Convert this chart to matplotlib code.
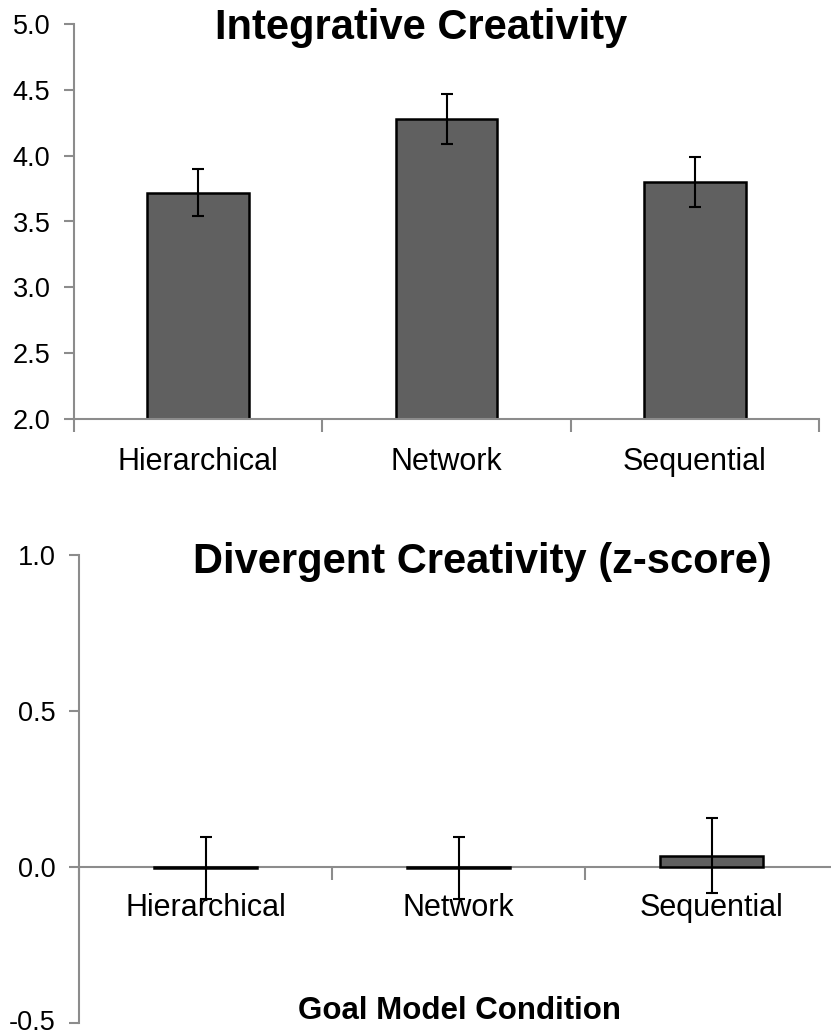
import matplotlib
matplotlib.use("Agg")
import matplotlib.pyplot as plt
from matplotlib.ticker import FixedLocator
from matplotlib.transforms import ScaledTranslation

plt.rcParams['font.family'] = ['Liberation Sans', 'DejaVu Sans']

conditions = ['Hierarchical', 'Network', 'Sequential']

integ_means = [3.72, 4.28, 3.80]
integ_err = [0.18, 0.19, 0.19]

diverg_means = [-0.004, -0.003, 0.036]
diverg_err = [0.10, 0.099, 0.12]

BAR = '#606060'
SPINE = '#8c8c8c'

fig = plt.figure(figsize=(8.31, 10.36), dpi=100)

W, H = 831, 1036


def ax_at(x0, x1, y0, y1):
    return fig.add_axes([x0 / W, 1 - y1 / H, (x1 - x0) / W, (y1 - y0) / H])


def style(ax, yticks, ylim, xpad):
    x = range(len(conditions))
    ax.set_xlim(-0.5, 2.5)
    ax.set_ylim(*ylim)
    ax.set_yticks(yticks)
    ax.set_yticklabels([f'{v:.1f}' for v in yticks], fontsize=19.5)
    ax.xaxis.set_major_locator(FixedLocator([-0.5, 0.5, 1.5, 2.5]))
    ax.xaxis.set_minor_locator(FixedLocator(list(x)))
    ax.set_xticklabels([], minor=False)
    ax.set_xticks(list(x), conditions, minor=True, fontsize=22)
    ax.tick_params(axis='x', which='major', length=9, width=1.5, color=SPINE, direction='out')
    ax.tick_params(axis='x', which='minor', length=0, pad=xpad)
    ax.tick_params(axis='y', length=7, width=1.5, color=SPINE, pad=10)
    for s in ['top', 'right']:
        ax.spines[s].set_visible(False)
    for s in ['left', 'bottom']:
        ax.spines[s].set_color(SPINE)
        ax.spines[s].set_linewidth(1.5)


# top chart
ax1 = ax_at(74, 819, 24, 419)
ax1.bar(range(3), integ_means, width=0.41, color=BAR, edgecolor='black',
        linewidth=1.8, zorder=2)
ax1.errorbar(range(3), integ_means, yerr=integ_err, fmt='none', ecolor='black',
             elinewidth=1.5, capsize=4.5, capthick=1.5, zorder=3)
style(ax1, [2.0, 2.5, 3.0, 3.5, 4.0, 4.5, 5.0], (2.0, 5.0), 20)
fig.text(421 / W, 1 - 39 / H, 'Integrative Creativity', fontsize=30,
         fontweight='bold', ha='center', va='baseline')

# bottom chart
ax2 = ax_at(79, 838, 555, 1023)
ax2.spines['bottom'].set_position(('data', 0))
ax2.spines['bottom'].set_zorder(1)
ax2.bar(range(3), diverg_means, width=0.41, color=BAR, edgecolor='black',
        linewidth=1.8, zorder=2)
ax2.errorbar(range(3), diverg_means, yerr=diverg_err, fmt='none', ecolor='black',
             elinewidth=1.5, capsize=4.5, capthick=1.5, zorder=3)
style(ax2, [-0.5, 0.0, 0.5, 1.0], (-0.5, 1.0), 19)
for lbl in ax2.get_yticklabels():
    lbl.set_verticalalignment('center_baseline')
# nudge the lowest label up a little so it stays inside the figure
low = ax2.get_yticklabels()[0]
low.set_transform(low.get_transform() + ScaledTranslation(0, 3 / 100, fig.dpi_scale_trans))
fig.text(482 / W, 1 - 573 / H, 'Divergent Creativity (z-score)', fontsize=30,
         fontweight='bold', ha='center', va='baseline')
fig.text(460 / W, 1 - 1019 / H, 'Goal Model Condition', fontsize=22.5,
         fontweight='bold', ha='center', va='baseline')

fig.savefig('out.png', dpi=100)
